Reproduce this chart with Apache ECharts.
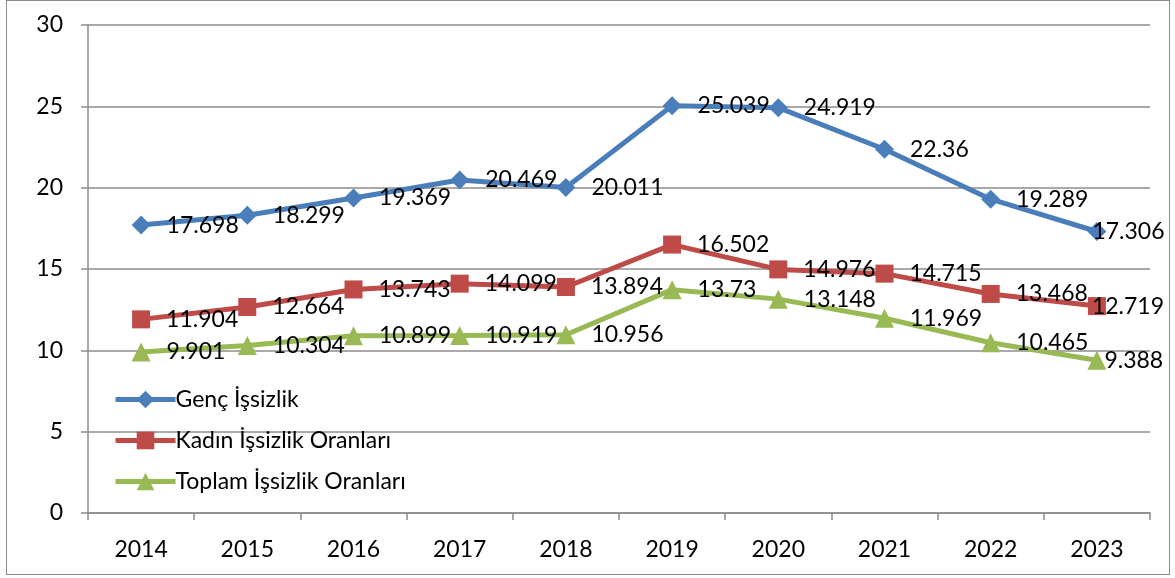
<!DOCTYPE html>
<html>
<head>
<meta charset="utf-8">
<script src="https://cdn.jsdelivr.net/npm/echarts@6/dist/echarts.min.js"></script>
<style>
    html, body { margin: 0; padding: 0; background: #fff; }
    #chart { position: absolute; left: 0; top: 0; width: 1175px; height: 578px; }
    #frame { position: absolute; left: 6px; top: 0px; width: 1162px; height: 573px; border: 1px solid #8c8c8c; pointer-events: none; }
</style>
</head>
<body>
<div id="chart"></div>
<div id="frame"></div>
<script>
// kategoriler (yıllar)
var years = ['2014', '2015', '2016', '2017', '2018', '2019', '2020', '2021', '2022', '2023'];
// seriler
var gencIssizlik = [17.698, 18.299, 19.369, 20.469, 20.011, 25.039, 24.919, 22.36, 19.289, 17.306];
var kadinIssizlik = [11.904, 12.664, 13.743, 14.099, 13.894, 16.502, 14.976, 14.715, 13.468, 12.719];
var toplamIssizlik = [9.901, 10.304, 10.899, 10.919, 10.956, 13.73, 13.148, 11.969, 10.465, 9.388];
var seriesNames = ['Genç İşsizlik', 'Kadın İşsizlik Oranları', 'Toplam İşsizlik Oranları'];

var FONT = 'Lato';

var ecInstance = echarts.init(document.getElementById('chart'));

// son noktanın etiketi grafik içine sığsın diye sola kaydırılıyor
function buildData(values, lastShift) {
    return values.map(function(v, i) {
        if (i === values.length - 1) {
            return { value: v, label: { offset: [lastShift, 0] } };
        }
        return v;
    });
}

function makeSeries(name, values, color, symbol, size, lastShift) {
    return {
        name: name,
        type: 'line',
        data: buildData(values, lastShift),
        symbol: symbol,
        symbolSize: size,
        showAllSymbol: true,
        lineStyle: { color: color, width: 5 },
        itemStyle: { color: color },
        label: {
            show: true,
            position: 'right',
            distance: 16,
            color: '#000',
            fontFamily: FONT,
            fontSize: 23
        },
        emphasis: { disabled: true },
        z: 3
    };
}

var option = {
    animation: false,
    textStyle: { fontFamily: FONT },
    grid: {
        left: 88,
        right: 25,
        top: 25,
        bottom: 65
    },
    legend: {
        orient: 'vertical',
        left: 108,
        top: 383,
        itemGap: 18,
        itemWidth: 60,
        itemHeight: 22,
        data: seriesNames,
        lineStyle: { width: 5 },
        textStyle: { color: '#000', fontFamily: FONT, fontSize: 23, padding: [0, 0, 0, -5] }
    },
    xAxis: {
        type: 'category',
        data: years,
        boundaryGap: true,
        axisLine: { lineStyle: { color: '#8c8c8c', width: 1.5 } },
        axisTick: { show: true, alignWithLabel: false, length: 7, lineStyle: { color: '#8c8c8c', width: 1.5 } },
        axisLabel: { color: '#000', fontFamily: FONT, fontSize: 23, margin: 25 },
        splitLine: { show: false }
    },
    yAxis: {
        type: 'value',
        min: 0,
        max: 30,
        interval: 5,
        axisLine: { show: true, lineStyle: { color: '#8c8c8c', width: 1.5 } },
        axisTick: { show: true, length: 7, lineStyle: { color: '#8c8c8c', width: 1.5 } },
        axisLabel: { color: '#000', fontFamily: FONT, fontSize: 23, margin: 25 },
        splitLine: { show: true, lineStyle: { color: '#8c8c8c', width: 1.5 } }
    },
    series: [
        makeSeries(seriesNames[0], gencIssizlik, '#4a7ebb', 'diamond', 19, -30),
        makeSeries(seriesNames[1], kadinIssizlik, '#be4b48', 'rect', 18, -30),
        makeSeries(seriesNames[2], toplamIssizlik, '#98b954', 'triangle', 19, -18)
    ]
};

ecInstance.setOption(option);
window.addEventListener('resize', function() {
    ecInstance.resize();
});
</script>
</body>
</html>
